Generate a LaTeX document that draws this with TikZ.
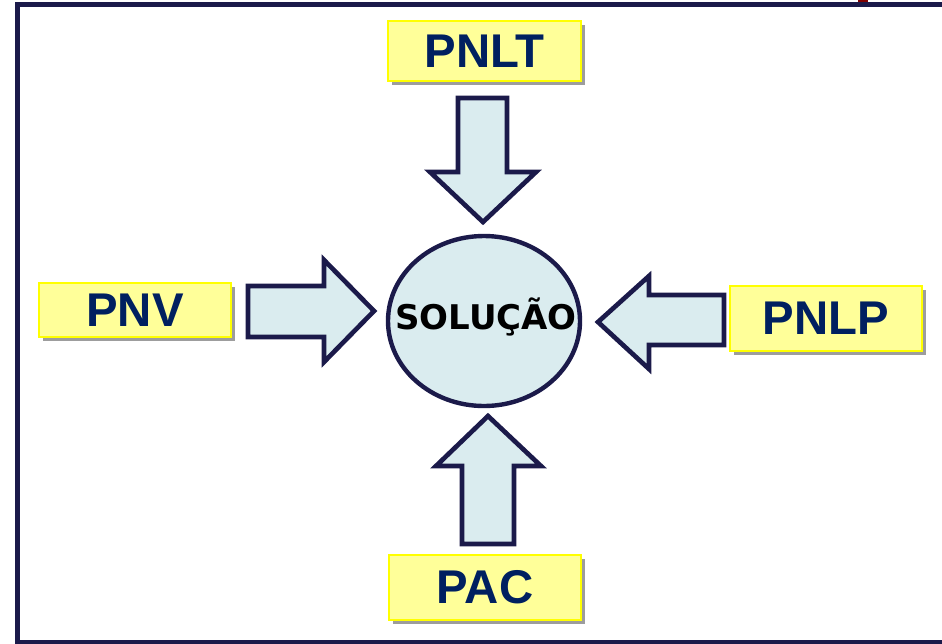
\documentclass[tikz,border=0pt]{standalone}
\usepackage{fontspec}
\setmainfont{Liberation Sans}
\newfontfamily\dejavu{DejaVu Sans}
\usetikzlibrary{shapes.geometric,shadows}
\definecolor{frame}{HTML}{1B1A4A}
\definecolor{boxfill}{HTML}{FFFF99}
\definecolor{boxline}{HTML}{FFFF00}
\definecolor{boxtext}{HTML}{002060}
\definecolor{arrfill}{HTML}{DAECEF}
\definecolor{darkred}{HTML}{7F0000}
\tikzset{
  lbox/.style={draw=boxline, fill=boxfill, line width=1.5pt, inner sep=0pt,
    minimum width=144pt, font=\bfseries\fontsize{35.5}{40}\selectfont, text=boxtext,
    drop shadow={shadow xshift=2.8pt, shadow yshift=-2.8pt, fill=black!55, opacity=0.7}},
  blockarrow/.style={draw=frame, fill=arrfill, line width=3.5pt, line join=miter},
  sol/.style={ellipse, draw=frame, fill=arrfill, line width=3.3pt, inner sep=0pt,
    minimum width=144pt, minimum height=127.5pt}
}
\begin{document}
\begin{tikzpicture}[x=0.75pt, y=-0.75pt]
\useasboundingbox (0,0) rectangle (942,643);
\begin{scope}
\clip (0,0) rectangle (942,643);
\fill[darkred] (858,0) rectangle (868,3);
\draw[frame, line width=3.75pt] (990,4.5) -- (17.5,4.5) -- (17.5,642.5) -- (990,642.5);
\end{scope}

\node[lbox, minimum width=144.75pt, minimum height=45pt] (pnlt) at (484.5,51) {PNLT};
\node[lbox, minimum height=40.5pt] (pnv) at (135,310) {PNV};
\node[lbox, minimum height=48.75pt] (pnlp) at (826,318.5) {PNLP};
\node[lbox, minimum height=48.75pt] (pac) at (485,587.5) {PAC};

\node[sol] (solucao) at (484,321) {};
\node[font=\dejavu\bfseries\fontsize{25.5}{30}\selectfont, inner sep=0pt] (soltext) at (486,317) {SOLUÇÃO};

% down arrow
\draw[blockarrow] (458,98) -- (507,98) -- (507,172) -- (536,172) -- (483,222) -- (430,172) -- (458,172) -- cycle;
% right arrow
\draw[blockarrow] (248,286) -- (324,286) -- (324,260) -- (374,311) -- (324,362) -- (324,337) -- (248,337) -- cycle;
% left arrow
\draw[blockarrow] (724,295) -- (649,295) -- (649,276) -- (598,322) -- (649,369) -- (649,345) -- (724,345) -- cycle;
% up arrow
\draw[blockarrow] (462,544) -- (462,466) -- (436,466) -- (488,416) -- (541,466) -- (514,466) -- (514,544) -- cycle;
\end{tikzpicture}
\end{document}
